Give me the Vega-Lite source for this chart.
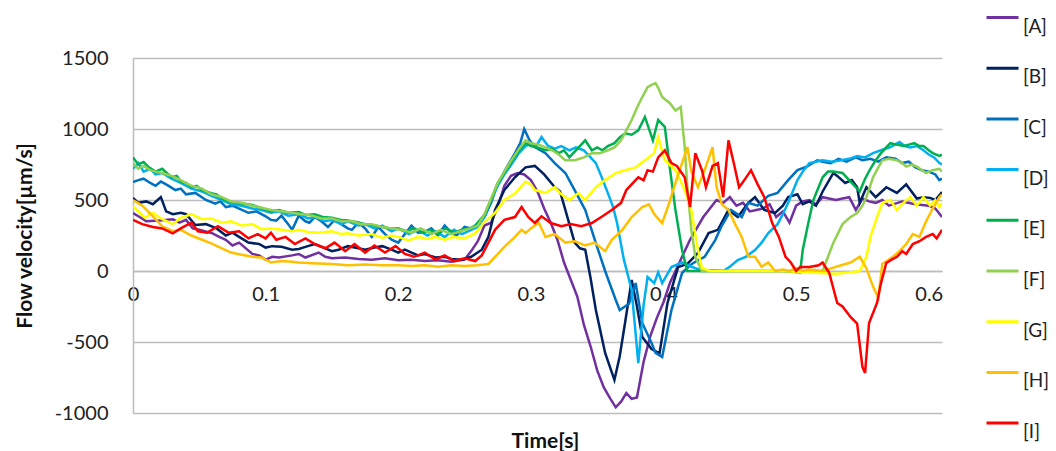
{
  "$schema": "https://vega.github.io/schema/vega-lite/v6.json",
  "width": 809,
  "height": 355,
  "autosize": {"type": "none"},
  "padding": {"left": 133, "top": 58, "right": 114, "bottom": 38},
  "background": "white",
  "config": {
    "view": {"stroke": null},
    "font": "Lato",
    "axis": {"labelFont": "Lato", "titleFont": "Lato"},
    "legend": {"labelFont": "Lato"}
  },
  "data": {
    "values": [
      {"s":"[A]","t":0,"v":408},{"s":"[A]","t":0.005,"v":380},{"s":"[A]","t":0.01,"v":350},{"s":"[A]","t":0.02,"v":355},{"s":"[A]","t":0.03,"v":365},{"s":"[A]","t":0.035,"v":340},{"s":"[A]","t":0.04,"v":360},{"s":"[A]","t":0.045,"v":300},{"s":"[A]","t":0.05,"v":290},{"s":"[A]","t":0.06,"v":265},{"s":"[A]","t":0.065,"v":240},{"s":"[A]","t":0.07,"v":220},{"s":"[A]","t":0.075,"v":180},{"s":"[A]","t":0.08,"v":200},{"s":"[A]","t":0.09,"v":120},{"s":"[A]","t":0.095,"v":110},{"s":"[A]","t":0.1,"v":80},{"s":"[A]","t":0.105,"v":100},{"s":"[A]","t":0.11,"v":95},{"s":"[A]","t":0.12,"v":110},{"s":"[A]","t":0.125,"v":120},{"s":"[A]","t":0.13,"v":95},{"s":"[A]","t":0.14,"v":130},{"s":"[A]","t":0.145,"v":100},{"s":"[A]","t":0.15,"v":90},{"s":"[A]","t":0.16,"v":95},{"s":"[A]","t":0.17,"v":85},{"s":"[A]","t":0.18,"v":80},{"s":"[A]","t":0.19,"v":90},{"s":"[A]","t":0.2,"v":75},{"s":"[A]","t":0.21,"v":80},{"s":"[A]","t":0.22,"v":70},{"s":"[A]","t":0.23,"v":75},{"s":"[A]","t":0.24,"v":65},{"s":"[A]","t":0.25,"v":80},{"s":"[A]","t":0.255,"v":140},{"s":"[A]","t":0.26,"v":210},{"s":"[A]","t":0.265,"v":320},{"s":"[A]","t":0.27,"v":340},{"s":"[A]","t":0.275,"v":450},{"s":"[A]","t":0.28,"v":600},{"s":"[A]","t":0.285,"v":670},{"s":"[A]","t":0.29,"v":690},{"s":"[A]","t":0.295,"v":680},{"s":"[A]","t":0.3,"v":640},{"s":"[A]","t":0.305,"v":560},{"s":"[A]","t":0.31,"v":440},{"s":"[A]","t":0.315,"v":340},{"s":"[A]","t":0.32,"v":220},{"s":"[A]","t":0.325,"v":60},{"s":"[A]","t":0.33,"v":-60},{"s":"[A]","t":0.335,"v":-180},{"s":"[A]","t":0.34,"v":-380},{"s":"[A]","t":0.345,"v":-530},{"s":"[A]","t":0.35,"v":-700},{"s":"[A]","t":0.355,"v":-820},{"s":"[A]","t":0.36,"v":-900},{"s":"[A]","t":0.364,"v":-960},{"s":"[A]","t":0.368,"v":-920},{"s":"[A]","t":0.372,"v":-860},{"s":"[A]","t":0.376,"v":-900},{"s":"[A]","t":0.38,"v":-890},{"s":"[A]","t":0.385,"v":-640},{"s":"[A]","t":0.39,"v":-460},{"s":"[A]","t":0.395,"v":-330},{"s":"[A]","t":0.4,"v":-220},{"s":"[A]","t":0.405,"v":-80},{"s":"[A]","t":0.41,"v":20},{"s":"[A]","t":0.415,"v":120},{"s":"[A]","t":0.42,"v":220},{"s":"[A]","t":0.425,"v":300},{"s":"[A]","t":0.43,"v":380},{"s":"[A]","t":0.435,"v":440},{"s":"[A]","t":0.44,"v":500},{"s":"[A]","t":0.445,"v":480},{"s":"[A]","t":0.45,"v":520},{"s":"[A]","t":0.455,"v":460},{"s":"[A]","t":0.46,"v":480},{"s":"[A]","t":0.465,"v":420},{"s":"[A]","t":0.47,"v":430},{"s":"[A]","t":0.475,"v":440},{"s":"[A]","t":0.48,"v":470},{"s":"[A]","t":0.485,"v":380},{"s":"[A]","t":0.49,"v":420},{"s":"[A]","t":0.495,"v":340},{"s":"[A]","t":0.5,"v":460},{"s":"[A]","t":0.505,"v":490},{"s":"[A]","t":0.51,"v":500},{"s":"[A]","t":0.515,"v":470},{"s":"[A]","t":0.52,"v":520},{"s":"[A]","t":0.53,"v":500},{"s":"[A]","t":0.535,"v":510},{"s":"[A]","t":0.54,"v":520},{"s":"[A]","t":0.545,"v":430},{"s":"[A]","t":0.55,"v":510},{"s":"[A]","t":0.555,"v":490},{"s":"[A]","t":0.56,"v":480},{"s":"[A]","t":0.565,"v":500},{"s":"[A]","t":0.57,"v":460},{"s":"[A]","t":0.58,"v":490},{"s":"[A]","t":0.59,"v":470},{"s":"[A]","t":0.6,"v":460},{"s":"[A]","t":0.605,"v":440},{"s":"[A]","t":0.61,"v":380},

      {"s":"[B]","t":0,"v":514},{"s":"[B]","t":0.004,"v":480},{"s":"[B]","t":0.01,"v":490},{"s":"[B]","t":0.015,"v":470},{"s":"[B]","t":0.021,"v":520},{"s":"[B]","t":0.025,"v":420},{"s":"[B]","t":0.03,"v":400},{"s":"[B]","t":0.036,"v":410},{"s":"[B]","t":0.04,"v":400},{"s":"[B]","t":0.047,"v":324},{"s":"[B]","t":0.055,"v":330},{"s":"[B]","t":0.063,"v":300},{"s":"[B]","t":0.07,"v":250},{"s":"[B]","t":0.075,"v":270},{"s":"[B]","t":0.08,"v":240},{"s":"[B]","t":0.087,"v":200},{"s":"[B]","t":0.095,"v":190},{"s":"[B]","t":0.1,"v":165},{"s":"[B]","t":0.105,"v":175},{"s":"[B]","t":0.112,"v":170},{"s":"[B]","t":0.12,"v":150},{"s":"[B]","t":0.125,"v":155},{"s":"[B]","t":0.13,"v":170},{"s":"[B]","t":0.137,"v":190},{"s":"[B]","t":0.145,"v":160},{"s":"[B]","t":0.15,"v":140},{"s":"[B]","t":0.155,"v":150},{"s":"[B]","t":0.162,"v":175},{"s":"[B]","t":0.17,"v":160},{"s":"[B]","t":0.175,"v":150},{"s":"[B]","t":0.182,"v":165},{"s":"[B]","t":0.188,"v":175},{"s":"[B]","t":0.195,"v":150},{"s":"[B]","t":0.2,"v":130},{"s":"[B]","t":0.205,"v":150},{"s":"[B]","t":0.21,"v":130},{"s":"[B]","t":0.215,"v":110},{"s":"[B]","t":0.22,"v":120},{"s":"[B]","t":0.228,"v":95},{"s":"[B]","t":0.235,"v":100},{"s":"[B]","t":0.24,"v":85},{"s":"[B]","t":0.248,"v":80},{"s":"[B]","t":0.255,"v":100},{"s":"[B]","t":0.263,"v":150},{"s":"[B]","t":0.268,"v":240},{"s":"[B]","t":0.273,"v":430},{"s":"[B]","t":0.28,"v":570},{"s":"[B]","t":0.288,"v":660},{"s":"[B]","t":0.296,"v":730},{"s":"[B]","t":0.303,"v":740},{"s":"[B]","t":0.31,"v":680},{"s":"[B]","t":0.318,"v":590},{"s":"[B]","t":0.322,"v":560},{"s":"[B]","t":0.326,"v":430},{"s":"[B]","t":0.333,"v":200},{"s":"[B]","t":0.337,"v":160},{"s":"[B]","t":0.341,"v":150},{"s":"[B]","t":0.345,"v":-50},{"s":"[B]","t":0.349,"v":-275},{"s":"[B]","t":0.356,"v":-577},{"s":"[B]","t":0.363,"v":-767},{"s":"[B]","t":0.367,"v":-600},{"s":"[B]","t":0.371,"v":-366},{"s":"[B]","t":0.376,"v":-63},{"s":"[B]","t":0.38,"v":-250},{"s":"[B]","t":0.384,"v":-465},{"s":"[B]","t":0.391,"v":-550},{"s":"[B]","t":0.397,"v":-580},{"s":"[B]","t":0.403,"v":-225},{"s":"[B]","t":0.411,"v":28},{"s":"[B]","t":0.418,"v":50},{"s":"[B]","t":0.426,"v":127},{"s":"[B]","t":0.434,"v":267},{"s":"[B]","t":0.441,"v":290},{"s":"[B]","t":0.449,"v":430},{"s":"[B]","t":0.456,"v":380},{"s":"[B]","t":0.464,"v":480},{"s":"[B]","t":0.469,"v":520},{"s":"[B]","t":0.476,"v":430},{"s":"[B]","t":0.484,"v":408},{"s":"[B]","t":0.49,"v":460},{"s":"[B]","t":0.494,"v":520},{"s":"[B]","t":0.501,"v":540},{"s":"[B]","t":0.505,"v":470},{"s":"[B]","t":0.51,"v":490},{"s":"[B]","t":0.515,"v":460},{"s":"[B]","t":0.52,"v":560},{"s":"[B]","t":0.528,"v":690},{"s":"[B]","t":0.531,"v":670},{"s":"[B]","t":0.537,"v":620},{"s":"[B]","t":0.542,"v":640},{"s":"[B]","t":0.546,"v":590},{"s":"[B]","t":0.548,"v":480},{"s":"[B]","t":0.553,"v":590},{"s":"[B]","t":0.56,"v":520},{"s":"[B]","t":0.568,"v":590},{"s":"[B]","t":0.576,"v":550},{"s":"[B]","t":0.583,"v":610},{"s":"[B]","t":0.591,"v":510},{"s":"[B]","t":0.596,"v":520},{"s":"[B]","t":0.601,"v":515},{"s":"[B]","t":0.605,"v":500},{"s":"[B]","t":0.61,"v":556},

      {"s":"[C]","t":0,"v":627},{"s":"[C]","t":0.004,"v":640},{"s":"[C]","t":0.008,"v":650},{"s":"[C]","t":0.013,"v":620},{"s":"[C]","t":0.017,"v":600},{"s":"[C]","t":0.021,"v":630},{"s":"[C]","t":0.025,"v":610},{"s":"[C]","t":0.032,"v":570},{"s":"[C]","t":0.036,"v":580},{"s":"[C]","t":0.04,"v":540},{"s":"[C]","t":0.047,"v":550},{"s":"[C]","t":0.055,"v":500},{"s":"[C]","t":0.062,"v":475},{"s":"[C]","t":0.066,"v":490},{"s":"[C]","t":0.07,"v":450},{"s":"[C]","t":0.075,"v":460},{"s":"[C]","t":0.08,"v":440},{"s":"[C]","t":0.087,"v":410},{"s":"[C]","t":0.093,"v":420},{"s":"[C]","t":0.1,"v":385},{"s":"[C]","t":0.104,"v":360},{"s":"[C]","t":0.108,"v":355},{"s":"[C]","t":0.112,"v":390},{"s":"[C]","t":0.117,"v":330},{"s":"[C]","t":0.12,"v":290},{"s":"[C]","t":0.125,"v":390},{"s":"[C]","t":0.13,"v":350},{"s":"[C]","t":0.133,"v":340},{"s":"[C]","t":0.137,"v":380},{"s":"[C]","t":0.142,"v":350},{"s":"[C]","t":0.147,"v":310},{"s":"[C]","t":0.152,"v":360},{"s":"[C]","t":0.157,"v":330},{"s":"[C]","t":0.162,"v":300},{"s":"[C]","t":0.165,"v":290},{"s":"[C]","t":0.17,"v":340},{"s":"[C]","t":0.175,"v":300},{"s":"[C]","t":0.18,"v":240},{"s":"[C]","t":0.185,"v":310},{"s":"[C]","t":0.19,"v":260},{"s":"[C]","t":0.195,"v":220},{"s":"[C]","t":0.2,"v":200},{"s":"[C]","t":0.205,"v":260},{"s":"[C]","t":0.21,"v":320},{"s":"[C]","t":0.215,"v":270},{"s":"[C]","t":0.22,"v":275},{"s":"[C]","t":0.225,"v":300},{"s":"[C]","t":0.23,"v":250},{"s":"[C]","t":0.235,"v":320},{"s":"[C]","t":0.24,"v":270},{"s":"[C]","t":0.244,"v":250},{"s":"[C]","t":0.25,"v":310},{"s":"[C]","t":0.255,"v":300},{"s":"[C]","t":0.26,"v":330},{"s":"[C]","t":0.265,"v":380},{"s":"[C]","t":0.27,"v":480},{"s":"[C]","t":0.274,"v":590},{"s":"[C]","t":0.28,"v":700},{"s":"[C]","t":0.288,"v":830},{"s":"[C]","t":0.292,"v":900},{"s":"[C]","t":0.295,"v":1000},{"s":"[C]","t":0.299,"v":920},{"s":"[C]","t":0.303,"v":873},{"s":"[C]","t":0.311,"v":830},{"s":"[C]","t":0.318,"v":760},{"s":"[C]","t":0.326,"v":690},{"s":"[C]","t":0.333,"v":570},{"s":"[C]","t":0.341,"v":430},{"s":"[C]","t":0.349,"v":197},{"s":"[C]","t":0.356,"v":0},{"s":"[C]","t":0.364,"v":-204},{"s":"[C]","t":0.367,"v":-275},{"s":"[C]","t":0.374,"v":-230},{"s":"[C]","t":0.379,"v":-85},{"s":"[C]","t":0.384,"v":-366},{"s":"[C]","t":0.391,"v":-507},{"s":"[C]","t":0.394,"v":-577},{"s":"[C]","t":0.399,"v":-605},{"s":"[C]","t":0.406,"v":-275},{"s":"[C]","t":0.414,"v":-14},{"s":"[C]","t":0.42,"v":40},{"s":"[C]","t":0.425,"v":70},{"s":"[C]","t":0.431,"v":100},{"s":"[C]","t":0.439,"v":218},{"s":"[C]","t":0.444,"v":320},{"s":"[C]","t":0.451,"v":430},{"s":"[C]","t":0.459,"v":380},{"s":"[C]","t":0.464,"v":480},{"s":"[C]","t":0.471,"v":460},{"s":"[C]","t":0.479,"v":530},{"s":"[C]","t":0.486,"v":550},{"s":"[C]","t":0.494,"v":640},{"s":"[C]","t":0.501,"v":710},{"s":"[C]","t":0.508,"v":735},{"s":"[C]","t":0.516,"v":780},{"s":"[C]","t":0.52,"v":770},{"s":"[C]","t":0.526,"v":760},{"s":"[C]","t":0.532,"v":790},{"s":"[C]","t":0.538,"v":770},{"s":"[C]","t":0.545,"v":800},{"s":"[C]","t":0.55,"v":780},{"s":"[C]","t":0.556,"v":790},{"s":"[C]","t":0.562,"v":770},{"s":"[C]","t":0.568,"v":800},{"s":"[C]","t":0.575,"v":790},{"s":"[C]","t":0.58,"v":760},{"s":"[C]","t":0.585,"v":770},{"s":"[C]","t":0.59,"v":730},{"s":"[C]","t":0.595,"v":710},{"s":"[C]","t":0.6,"v":700},{"s":"[C]","t":0.605,"v":680},{"s":"[C]","t":0.608,"v":640},{"s":"[C]","t":0.61,"v":650},

      {"s":"[D]","t":0,"v":720},{"s":"[D]","t":0.004,"v":760},{"s":"[D]","t":0.008,"v":700},{"s":"[D]","t":0.013,"v":720},{"s":"[D]","t":0.017,"v":680},{"s":"[D]","t":0.022,"v":690},{"s":"[D]","t":0.029,"v":650},{"s":"[D]","t":0.036,"v":620},{"s":"[D]","t":0.044,"v":580},{"s":"[D]","t":0.052,"v":560},{"s":"[D]","t":0.059,"v":530},{"s":"[D]","t":0.067,"v":500},{"s":"[D]","t":0.074,"v":470},{"s":"[D]","t":0.082,"v":460},{"s":"[D]","t":0.09,"v":440},{"s":"[D]","t":0.097,"v":430},{"s":"[D]","t":0.104,"v":410},{"s":"[D]","t":0.11,"v":420},{"s":"[D]","t":0.117,"v":390},{"s":"[D]","t":0.125,"v":400},{"s":"[D]","t":0.132,"v":370},{"s":"[D]","t":0.137,"v":380},{"s":"[D]","t":0.145,"v":350},{"s":"[D]","t":0.15,"v":360},{"s":"[D]","t":0.157,"v":330},{"s":"[D]","t":0.162,"v":350},{"s":"[D]","t":0.17,"v":320},{"s":"[D]","t":0.175,"v":330},{"s":"[D]","t":0.182,"v":300},{"s":"[D]","t":0.188,"v":320},{"s":"[D]","t":0.195,"v":280},{"s":"[D]","t":0.2,"v":300},{"s":"[D]","t":0.208,"v":260},{"s":"[D]","t":0.215,"v":290},{"s":"[D]","t":0.222,"v":250},{"s":"[D]","t":0.228,"v":280},{"s":"[D]","t":0.235,"v":240},{"s":"[D]","t":0.242,"v":290},{"s":"[D]","t":0.248,"v":260},{"s":"[D]","t":0.255,"v":290},{"s":"[D]","t":0.26,"v":310},{"s":"[D]","t":0.265,"v":380},{"s":"[D]","t":0.27,"v":500},{"s":"[D]","t":0.275,"v":600},{"s":"[D]","t":0.28,"v":680},{"s":"[D]","t":0.286,"v":760},{"s":"[D]","t":0.291,"v":830},{"s":"[D]","t":0.296,"v":880},{"s":"[D]","t":0.3,"v":900},{"s":"[D]","t":0.304,"v":880},{"s":"[D]","t":0.308,"v":943},{"s":"[D]","t":0.313,"v":880},{"s":"[D]","t":0.318,"v":862},{"s":"[D]","t":0.323,"v":880},{"s":"[D]","t":0.329,"v":850},{"s":"[D]","t":0.334,"v":870},{"s":"[D]","t":0.34,"v":850},{"s":"[D]","t":0.345,"v":800},{"s":"[D]","t":0.349,"v":760},{"s":"[D]","t":0.353,"v":670},{"s":"[D]","t":0.358,"v":550},{"s":"[D]","t":0.362,"v":450},{"s":"[D]","t":0.365,"v":338},{"s":"[D]","t":0.37,"v":85},{"s":"[D]","t":0.376,"v":-134},{"s":"[D]","t":0.381,"v":-648},{"s":"[D]","t":0.385,"v":-240},{"s":"[D]","t":0.388,"v":-42},{"s":"[D]","t":0.393,"v":-85},{"s":"[D]","t":0.396,"v":-10},{"s":"[D]","t":0.399,"v":-85},{"s":"[D]","t":0.406,"v":28},{"s":"[D]","t":0.414,"v":60},{"s":"[D]","t":0.421,"v":30},{"s":"[D]","t":0.43,"v":0},{"s":"[D]","t":0.437,"v":5},{"s":"[D]","t":0.445,"v":0},{"s":"[D]","t":0.45,"v":30},{"s":"[D]","t":0.456,"v":77},{"s":"[D]","t":0.462,"v":100},{"s":"[D]","t":0.469,"v":148},{"s":"[D]","t":0.474,"v":200},{"s":"[D]","t":0.479,"v":267},{"s":"[D]","t":0.486,"v":330},{"s":"[D]","t":0.49,"v":400},{"s":"[D]","t":0.494,"v":480},{"s":"[D]","t":0.501,"v":640},{"s":"[D]","t":0.505,"v":700},{"s":"[D]","t":0.51,"v":760},{"s":"[D]","t":0.515,"v":770},{"s":"[D]","t":0.52,"v":780},{"s":"[D]","t":0.527,"v":770},{"s":"[D]","t":0.534,"v":780},{"s":"[D]","t":0.54,"v":790},{"s":"[D]","t":0.546,"v":810},{"s":"[D]","t":0.552,"v":800},{"s":"[D]","t":0.558,"v":830},{"s":"[D]","t":0.564,"v":850},{"s":"[D]","t":0.571,"v":873},{"s":"[D]","t":0.578,"v":908},{"s":"[D]","t":0.582,"v":880},{"s":"[D]","t":0.586,"v":870},{"s":"[D]","t":0.591,"v":880},{"s":"[D]","t":0.596,"v":850},{"s":"[D]","t":0.6,"v":820},{"s":"[D]","t":0.604,"v":800},{"s":"[D]","t":0.608,"v":760},{"s":"[D]","t":0.61,"v":750},

      {"s":"[E]","t":0,"v":800},{"s":"[E]","t":0.004,"v":750},{"s":"[E]","t":0.008,"v":767},{"s":"[E]","t":0.012,"v":730},{"s":"[E]","t":0.017,"v":700},{"s":"[E]","t":0.022,"v":720},{"s":"[E]","t":0.029,"v":660},{"s":"[E]","t":0.033,"v":670},{"s":"[E]","t":0.036,"v":630},{"s":"[E]","t":0.04,"v":620},{"s":"[E]","t":0.044,"v":590},{"s":"[E]","t":0.048,"v":600},{"s":"[E]","t":0.052,"v":570},{"s":"[E]","t":0.059,"v":548},{"s":"[E]","t":0.063,"v":540},{"s":"[E]","t":0.067,"v":510},{"s":"[E]","t":0.074,"v":486},{"s":"[E]","t":0.082,"v":475},{"s":"[E]","t":0.09,"v":465},{"s":"[E]","t":0.097,"v":443},{"s":"[E]","t":0.104,"v":420},{"s":"[E]","t":0.11,"v":430},{"s":"[E]","t":0.117,"v":410},{"s":"[E]","t":0.125,"v":415},{"s":"[E]","t":0.13,"v":395},{"s":"[E]","t":0.137,"v":400},{"s":"[E]","t":0.143,"v":380},{"s":"[E]","t":0.15,"v":375},{"s":"[E]","t":0.157,"v":360},{"s":"[E]","t":0.162,"v":355},{"s":"[E]","t":0.168,"v":345},{"s":"[E]","t":0.175,"v":330},{"s":"[E]","t":0.182,"v":320},{"s":"[E]","t":0.188,"v":310},{"s":"[E]","t":0.194,"v":300},{"s":"[E]","t":0.2,"v":300},{"s":"[E]","t":0.206,"v":280},{"s":"[E]","t":0.212,"v":300},{"s":"[E]","t":0.218,"v":270},{"s":"[E]","t":0.224,"v":290},{"s":"[E]","t":0.23,"v":260},{"s":"[E]","t":0.236,"v":300},{"s":"[E]","t":0.242,"v":270},{"s":"[E]","t":0.248,"v":290},{"s":"[E]","t":0.254,"v":300},{"s":"[E]","t":0.258,"v":320},{"s":"[E]","t":0.265,"v":395},{"s":"[E]","t":0.27,"v":500},{"s":"[E]","t":0.275,"v":620},{"s":"[E]","t":0.28,"v":690},{"s":"[E]","t":0.286,"v":780},{"s":"[E]","t":0.291,"v":850},{"s":"[E]","t":0.296,"v":900},{"s":"[E]","t":0.3,"v":880},{"s":"[E]","t":0.305,"v":870},{"s":"[E]","t":0.311,"v":850},{"s":"[E]","t":0.316,"v":860},{"s":"[E]","t":0.321,"v":830},{"s":"[E]","t":0.325,"v":850},{"s":"[E]","t":0.329,"v":800},{"s":"[E]","t":0.335,"v":860},{"s":"[E]","t":0.341,"v":920},{"s":"[E]","t":0.346,"v":850},{"s":"[E]","t":0.35,"v":870},{"s":"[E]","t":0.354,"v":850},{"s":"[E]","t":0.358,"v":880},{"s":"[E]","t":0.363,"v":900},{"s":"[E]","t":0.367,"v":940},{"s":"[E]","t":0.371,"v":970},{"s":"[E]","t":0.376,"v":960},{"s":"[E]","t":0.381,"v":990},{"s":"[E]","t":0.386,"v":1085},{"s":"[E]","t":0.392,"v":920},{"s":"[E]","t":0.396,"v":1063},{"s":"[E]","t":0.401,"v":1015},{"s":"[E]","t":0.405,"v":711},{"s":"[E]","t":0.409,"v":430},{"s":"[E]","t":0.414,"v":148},{"s":"[E]","t":0.418,"v":0},{"s":"[E]","t":0.43,"v":0},{"s":"[E]","t":0.45,"v":0},{"s":"[E]","t":0.47,"v":0},{"s":"[E]","t":0.49,"v":0},{"s":"[E]","t":0.503,"v":-10},{"s":"[E]","t":0.505,"v":148},{"s":"[E]","t":0.509,"v":330},{"s":"[E]","t":0.513,"v":500},{"s":"[E]","t":0.52,"v":660},{"s":"[E]","t":0.524,"v":700},{"s":"[E]","t":0.528,"v":700},{"s":"[E]","t":0.535,"v":690},{"s":"[E]","t":0.54,"v":640},{"s":"[E]","t":0.543,"v":610},{"s":"[E]","t":0.548,"v":560},{"s":"[E]","t":0.552,"v":650},{"s":"[E]","t":0.556,"v":720},{"s":"[E]","t":0.56,"v":780},{"s":"[E]","t":0.564,"v":830},{"s":"[E]","t":0.568,"v":870},{"s":"[E]","t":0.571,"v":900},{"s":"[E]","t":0.576,"v":890},{"s":"[E]","t":0.581,"v":880},{"s":"[E]","t":0.585,"v":890},{"s":"[E]","t":0.589,"v":900},{"s":"[E]","t":0.593,"v":880},{"s":"[E]","t":0.596,"v":880},{"s":"[E]","t":0.6,"v":850},{"s":"[E]","t":0.603,"v":830},{"s":"[E]","t":0.608,"v":810},{"s":"[E]","t":0.61,"v":820},

      {"s":"[F]","t":0,"v":760},{"s":"[F]","t":0.004,"v":720},{"s":"[F]","t":0.008,"v":740},{"s":"[F]","t":0.013,"v":710},{"s":"[F]","t":0.017,"v":700},{"s":"[F]","t":0.022,"v":690},{"s":"[F]","t":0.029,"v":670},{"s":"[F]","t":0.036,"v":640},{"s":"[F]","t":0.044,"v":600},{"s":"[F]","t":0.052,"v":580},{"s":"[F]","t":0.059,"v":540},{"s":"[F]","t":0.067,"v":520},{"s":"[F]","t":0.074,"v":490},{"s":"[F]","t":0.082,"v":480},{"s":"[F]","t":0.09,"v":460},{"s":"[F]","t":0.097,"v":445},{"s":"[F]","t":0.104,"v":430},{"s":"[F]","t":0.112,"v":420},{"s":"[F]","t":0.12,"v":410},{"s":"[F]","t":0.127,"v":400},{"s":"[F]","t":0.135,"v":390},{"s":"[F]","t":0.142,"v":370},{"s":"[F]","t":0.15,"v":370},{"s":"[F]","t":0.157,"v":350},{"s":"[F]","t":0.165,"v":350},{"s":"[F]","t":0.172,"v":330},{"s":"[F]","t":0.18,"v":330},{"s":"[F]","t":0.188,"v":310},{"s":"[F]","t":0.195,"v":300},{"s":"[F]","t":0.202,"v":290},{"s":"[F]","t":0.21,"v":270},{"s":"[F]","t":0.217,"v":300},{"s":"[F]","t":0.225,"v":260},{"s":"[F]","t":0.232,"v":290},{"s":"[F]","t":0.24,"v":260},{"s":"[F]","t":0.247,"v":280},{"s":"[F]","t":0.254,"v":300},{"s":"[F]","t":0.26,"v":320},{"s":"[F]","t":0.265,"v":400},{"s":"[F]","t":0.27,"v":510},{"s":"[F]","t":0.275,"v":620},{"s":"[F]","t":0.28,"v":700},{"s":"[F]","t":0.286,"v":790},{"s":"[F]","t":0.291,"v":860},{"s":"[F]","t":0.296,"v":920},{"s":"[F]","t":0.3,"v":900},{"s":"[F]","t":0.306,"v":890},{"s":"[F]","t":0.311,"v":870},{"s":"[F]","t":0.316,"v":850},{"s":"[F]","t":0.321,"v":820},{"s":"[F]","t":0.326,"v":780},{"s":"[F]","t":0.333,"v":780},{"s":"[F]","t":0.34,"v":800},{"s":"[F]","t":0.346,"v":830},{"s":"[F]","t":0.352,"v":830},{"s":"[F]","t":0.358,"v":850},{"s":"[F]","t":0.363,"v":870},{"s":"[F]","t":0.368,"v":920},{"s":"[F]","t":0.372,"v":990},{"s":"[F]","t":0.376,"v":1063},{"s":"[F]","t":0.38,"v":1150},{"s":"[F]","t":0.384,"v":1225},{"s":"[F]","t":0.388,"v":1295},{"s":"[F]","t":0.391,"v":1310},{"s":"[F]","t":0.394,"v":1323},{"s":"[F]","t":0.396,"v":1290},{"s":"[F]","t":0.399,"v":1225},{"s":"[F]","t":0.405,"v":1180},{"s":"[F]","t":0.409,"v":1130},{"s":"[F]","t":0.413,"v":1155},{"s":"[F]","t":0.416,"v":873},{"s":"[F]","t":0.418,"v":590},{"s":"[F]","t":0.421,"v":290},{"s":"[F]","t":0.424,"v":100},{"s":"[F]","t":0.429,"v":0},{"s":"[F]","t":0.45,"v":0},{"s":"[F]","t":0.47,"v":0},{"s":"[F]","t":0.49,"v":0},{"s":"[F]","t":0.51,"v":0},{"s":"[F]","t":0.52,"v":0},{"s":"[F]","t":0.524,"v":100},{"s":"[F]","t":0.528,"v":197},{"s":"[F]","t":0.535,"v":330},{"s":"[F]","t":0.541,"v":380},{"s":"[F]","t":0.546,"v":408},{"s":"[F]","t":0.55,"v":460},{"s":"[F]","t":0.553,"v":520},{"s":"[F]","t":0.558,"v":660},{"s":"[F]","t":0.562,"v":730},{"s":"[F]","t":0.565,"v":780},{"s":"[F]","t":0.57,"v":790},{"s":"[F]","t":0.576,"v":780},{"s":"[F]","t":0.58,"v":760},{"s":"[F]","t":0.583,"v":735},{"s":"[F]","t":0.587,"v":750},{"s":"[F]","t":0.591,"v":735},{"s":"[F]","t":0.595,"v":710},{"s":"[F]","t":0.598,"v":690},{"s":"[F]","t":0.603,"v":710},{"s":"[F]","t":0.608,"v":720},{"s":"[F]","t":0.61,"v":700},

      {"s":"[G]","t":0,"v":455},{"s":"[G]","t":0.004,"v":420},{"s":"[G]","t":0.009,"v":375},{"s":"[G]","t":0.015,"v":410},{"s":"[G]","t":0.022,"v":365},{"s":"[G]","t":0.03,"v":330},{"s":"[G]","t":0.036,"v":375},{"s":"[G]","t":0.044,"v":400},{"s":"[G]","t":0.052,"v":365},{"s":"[G]","t":0.059,"v":370},{"s":"[G]","t":0.067,"v":340},{"s":"[G]","t":0.074,"v":350},{"s":"[G]","t":0.082,"v":320},{"s":"[G]","t":0.09,"v":330},{"s":"[G]","t":0.097,"v":295},{"s":"[G]","t":0.104,"v":300},{"s":"[G]","t":0.112,"v":290},{"s":"[G]","t":0.12,"v":280},{"s":"[G]","t":0.125,"v":290},{"s":"[G]","t":0.132,"v":275},{"s":"[G]","t":0.14,"v":270},{"s":"[G]","t":0.15,"v":280},{"s":"[G]","t":0.157,"v":260},{"s":"[G]","t":0.162,"v":265},{"s":"[G]","t":0.17,"v":250},{"s":"[G]","t":0.18,"v":260},{"s":"[G]","t":0.188,"v":235},{"s":"[G]","t":0.195,"v":250},{"s":"[G]","t":0.2,"v":240},{"s":"[G]","t":0.208,"v":215},{"s":"[G]","t":0.215,"v":240},{"s":"[G]","t":0.222,"v":225},{"s":"[G]","t":0.228,"v":240},{"s":"[G]","t":0.235,"v":220},{"s":"[G]","t":0.242,"v":240},{"s":"[G]","t":0.25,"v":230},{"s":"[G]","t":0.258,"v":265},{"s":"[G]","t":0.265,"v":345},{"s":"[G]","t":0.273,"v":410},{"s":"[G]","t":0.28,"v":500},{"s":"[G]","t":0.288,"v":545},{"s":"[G]","t":0.296,"v":630},{"s":"[G]","t":0.3,"v":610},{"s":"[G]","t":0.303,"v":570},{"s":"[G]","t":0.311,"v":550},{"s":"[G]","t":0.318,"v":590},{"s":"[G]","t":0.323,"v":540},{"s":"[G]","t":0.329,"v":500},{"s":"[G]","t":0.336,"v":550},{"s":"[G]","t":0.341,"v":500},{"s":"[G]","t":0.349,"v":590},{"s":"[G]","t":0.356,"v":640},{"s":"[G]","t":0.364,"v":690},{"s":"[G]","t":0.371,"v":710},{"s":"[G]","t":0.379,"v":730},{"s":"[G]","t":0.386,"v":780},{"s":"[G]","t":0.393,"v":830},{"s":"[G]","t":0.396,"v":943},{"s":"[G]","t":0.401,"v":780},{"s":"[G]","t":0.409,"v":711},{"s":"[G]","t":0.416,"v":570},{"s":"[G]","t":0.421,"v":430},{"s":"[G]","t":0.425,"v":197},{"s":"[G]","t":0.429,"v":20},{"s":"[G]","t":0.435,"v":0},{"s":"[G]","t":0.45,"v":0},{"s":"[G]","t":0.47,"v":0},{"s":"[G]","t":0.49,"v":0},{"s":"[G]","t":0.51,"v":-10},{"s":"[G]","t":0.53,"v":-20},{"s":"[G]","t":0.54,"v":-10},{"s":"[G]","t":0.548,"v":0},{"s":"[G]","t":0.553,"v":100},{"s":"[G]","t":0.556,"v":240},{"s":"[G]","t":0.561,"v":380},{"s":"[G]","t":0.565,"v":480},{"s":"[G]","t":0.571,"v":500},{"s":"[G]","t":0.576,"v":430},{"s":"[G]","t":0.581,"v":480},{"s":"[G]","t":0.586,"v":520},{"s":"[G]","t":0.591,"v":460},{"s":"[G]","t":0.596,"v":520},{"s":"[G]","t":0.601,"v":460},{"s":"[G]","t":0.605,"v":500},{"s":"[G]","t":0.608,"v":450},{"s":"[G]","t":0.61,"v":480},

      {"s":"[H]","t":0,"v":500},{"s":"[H]","t":0.007,"v":460},{"s":"[H]","t":0.015,"v":385},{"s":"[H]","t":0.022,"v":315},{"s":"[H]","t":0.03,"v":280},{"s":"[H]","t":0.036,"v":290},{"s":"[H]","t":0.044,"v":250},{"s":"[H]","t":0.052,"v":220},{"s":"[H]","t":0.059,"v":195},{"s":"[H]","t":0.067,"v":160},{"s":"[H]","t":0.074,"v":130},{"s":"[H]","t":0.082,"v":115},{"s":"[H]","t":0.09,"v":100},{"s":"[H]","t":0.097,"v":95},{"s":"[H]","t":0.104,"v":60},{"s":"[H]","t":0.112,"v":70},{"s":"[H]","t":0.12,"v":65},{"s":"[H]","t":0.125,"v":60},{"s":"[H]","t":0.135,"v":55},{"s":"[H]","t":0.15,"v":50},{"s":"[H]","t":0.162,"v":40},{"s":"[H]","t":0.175,"v":45},{"s":"[H]","t":0.188,"v":40},{"s":"[H]","t":0.2,"v":40},{"s":"[H]","t":0.21,"v":35},{"s":"[H]","t":0.22,"v":40},{"s":"[H]","t":0.23,"v":30},{"s":"[H]","t":0.24,"v":40},{"s":"[H]","t":0.25,"v":35},{"s":"[H]","t":0.26,"v":40},{"s":"[H]","t":0.268,"v":50},{"s":"[H]","t":0.273,"v":100},{"s":"[H]","t":0.28,"v":170},{"s":"[H]","t":0.288,"v":240},{"s":"[H]","t":0.293,"v":290},{"s":"[H]","t":0.296,"v":267},{"s":"[H]","t":0.3,"v":300},{"s":"[H]","t":0.306,"v":340},{"s":"[H]","t":0.311,"v":240},{"s":"[H]","t":0.318,"v":260},{"s":"[H]","t":0.326,"v":200},{"s":"[H]","t":0.333,"v":210},{"s":"[H]","t":0.341,"v":180},{"s":"[H]","t":0.348,"v":200},{"s":"[H]","t":0.356,"v":140},{"s":"[H]","t":0.361,"v":220},{"s":"[H]","t":0.369,"v":290},{"s":"[H]","t":0.376,"v":380},{"s":"[H]","t":0.384,"v":450},{"s":"[H]","t":0.389,"v":470},{"s":"[H]","t":0.393,"v":400},{"s":"[H]","t":0.399,"v":338},{"s":"[H]","t":0.404,"v":470},{"s":"[H]","t":0.409,"v":620},{"s":"[H]","t":0.414,"v":760},{"s":"[H]","t":0.418,"v":873},{"s":"[H]","t":0.421,"v":700},{"s":"[H]","t":0.426,"v":590},{"s":"[H]","t":0.431,"v":710},{"s":"[H]","t":0.437,"v":873},{"s":"[H]","t":0.44,"v":590},{"s":"[H]","t":0.444,"v":470},{"s":"[H]","t":0.449,"v":430},{"s":"[H]","t":0.454,"v":330},{"s":"[H]","t":0.459,"v":240},{"s":"[H]","t":0.464,"v":100},{"s":"[H]","t":0.469,"v":100},{"s":"[H]","t":0.474,"v":30},{"s":"[H]","t":0.479,"v":60},{"s":"[H]","t":0.484,"v":0},{"s":"[H]","t":0.49,"v":10},{"s":"[H]","t":0.495,"v":0},{"s":"[H]","t":0.5,"v":20},{"s":"[H]","t":0.505,"v":0},{"s":"[H]","t":0.51,"v":10},{"s":"[H]","t":0.52,"v":0},{"s":"[H]","t":0.527,"v":20},{"s":"[H]","t":0.534,"v":40},{"s":"[H]","t":0.541,"v":60},{"s":"[H]","t":0.548,"v":100},{"s":"[H]","t":0.553,"v":20},{"s":"[H]","t":0.558,"v":-110},{"s":"[H]","t":0.562,"v":-190},{"s":"[H]","t":0.565,"v":50},{"s":"[H]","t":0.573,"v":100},{"s":"[H]","t":0.578,"v":140},{"s":"[H]","t":0.583,"v":190},{"s":"[H]","t":0.588,"v":260},{"s":"[H]","t":0.593,"v":240},{"s":"[H]","t":0.598,"v":350},{"s":"[H]","t":0.603,"v":440},{"s":"[H]","t":0.608,"v":520},{"s":"[H]","t":0.61,"v":540},

      {"s":"[I]","t":0,"v":360},{"s":"[I]","t":0.007,"v":330},{"s":"[I]","t":0.015,"v":310},{"s":"[I]","t":0.022,"v":300},{"s":"[I]","t":0.03,"v":265},{"s":"[I]","t":0.036,"v":300},{"s":"[I]","t":0.044,"v":340},{"s":"[I]","t":0.049,"v":280},{"s":"[I]","t":0.056,"v":270},{"s":"[I]","t":0.064,"v":315},{"s":"[I]","t":0.072,"v":270},{"s":"[I]","t":0.08,"v":280},{"s":"[I]","t":0.087,"v":230},{"s":"[I]","t":0.094,"v":260},{"s":"[I]","t":0.1,"v":230},{"s":"[I]","t":0.104,"v":270},{"s":"[I]","t":0.108,"v":220},{"s":"[I]","t":0.115,"v":240},{"s":"[I]","t":0.122,"v":190},{"s":"[I]","t":0.13,"v":230},{"s":"[I]","t":0.137,"v":190},{"s":"[I]","t":0.145,"v":160},{"s":"[I]","t":0.152,"v":200},{"s":"[I]","t":0.16,"v":140},{"s":"[I]","t":0.167,"v":190},{"s":"[I]","t":0.175,"v":130},{"s":"[I]","t":0.182,"v":180},{"s":"[I]","t":0.19,"v":130},{"s":"[I]","t":0.198,"v":175},{"s":"[I]","t":0.205,"v":120},{"s":"[I]","t":0.212,"v":100},{"s":"[I]","t":0.22,"v":130},{"s":"[I]","t":0.228,"v":80},{"s":"[I]","t":0.235,"v":110},{"s":"[I]","t":0.242,"v":70},{"s":"[I]","t":0.25,"v":90},{"s":"[I]","t":0.258,"v":70},{"s":"[I]","t":0.263,"v":110},{"s":"[I]","t":0.268,"v":200},{"s":"[I]","t":0.273,"v":290},{"s":"[I]","t":0.28,"v":360},{"s":"[I]","t":0.288,"v":380},{"s":"[I]","t":0.293,"v":450},{"s":"[I]","t":0.298,"v":380},{"s":"[I]","t":0.303,"v":338},{"s":"[I]","t":0.308,"v":385},{"s":"[I]","t":0.315,"v":338},{"s":"[I]","t":0.323,"v":315},{"s":"[I]","t":0.33,"v":330},{"s":"[I]","t":0.338,"v":315},{"s":"[I]","t":0.346,"v":338},{"s":"[I]","t":0.354,"v":385},{"s":"[I]","t":0.361,"v":430},{"s":"[I]","t":0.368,"v":480},{"s":"[I]","t":0.372,"v":570},{"s":"[I]","t":0.377,"v":620},{"s":"[I]","t":0.381,"v":660},{"s":"[I]","t":0.385,"v":640},{"s":"[I]","t":0.388,"v":710},{"s":"[I]","t":0.392,"v":700},{"s":"[I]","t":0.396,"v":800},{"s":"[I]","t":0.401,"v":850},{"s":"[I]","t":0.406,"v":760},{"s":"[I]","t":0.41,"v":740},{"s":"[I]","t":0.416,"v":660},{"s":"[I]","t":0.42,"v":450},{"s":"[I]","t":0.424,"v":830},{"s":"[I]","t":0.429,"v":710},{"s":"[I]","t":0.432,"v":590},{"s":"[I]","t":0.437,"v":740},{"s":"[I]","t":0.441,"v":760},{"s":"[I]","t":0.445,"v":520},{"s":"[I]","t":0.449,"v":920},{"s":"[I]","t":0.453,"v":760},{"s":"[I]","t":0.457,"v":590},{"s":"[I]","t":0.461,"v":640},{"s":"[I]","t":0.466,"v":710},{"s":"[I]","t":0.471,"v":610},{"s":"[I]","t":0.476,"v":520},{"s":"[I]","t":0.482,"v":338},{"s":"[I]","t":0.487,"v":240},{"s":"[I]","t":0.492,"v":100},{"s":"[I]","t":0.496,"v":60},{"s":"[I]","t":0.5,"v":0},{"s":"[I]","t":0.503,"v":28},{"s":"[I]","t":0.51,"v":28},{"s":"[I]","t":0.517,"v":40},{"s":"[I]","t":0.52,"v":60},{"s":"[I]","t":0.525,"v":-14},{"s":"[I]","t":0.531,"v":-225},{"s":"[I]","t":0.535,"v":-250},{"s":"[I]","t":0.541,"v":-324},{"s":"[I]","t":0.546,"v":-370},{"s":"[I]","t":0.55,"v":-676},{"s":"[I]","t":0.552,"v":-718},{"s":"[I]","t":0.555,"v":-366},{"s":"[I]","t":0.561,"v":-225},{"s":"[I]","t":0.564,"v":-85},{"s":"[I]","t":0.568,"v":56},{"s":"[I]","t":0.572,"v":80},{"s":"[I]","t":0.576,"v":100},{"s":"[I]","t":0.58,"v":140},{"s":"[I]","t":0.583,"v":120},{"s":"[I]","t":0.588,"v":190},{"s":"[I]","t":0.593,"v":210},{"s":"[I]","t":0.598,"v":240},{"s":"[I]","t":0.603,"v":260},{"s":"[I]","t":0.606,"v":230},{"s":"[I]","t":0.61,"v":290}
    ]
  },
  "mark": {"type": "line", "strokeWidth": 2.5, "clip": true},
  "encoding": {
    "x": {
      "field": "t",
      "type": "quantitative",
      "scale": {"domain": [0, 0.61], "nice": false, "zero": false},
      "axis": {
        "title": "Time[s]",
        "values": [0, 0.1, 0.2, 0.3, 0.4, 0.5, 0.6],
        "labelExpr": "'' + datum.value",
        "offset": -142,
        "ticks": false,
        "grid": false,
        "domainColor": "#bdbdbd",
        "domainWidth": 1.5,
        "labelFontSize": 20,
        "labelColor": "#222222",
        "labelPadding": 13,
        "labelFlush": false,
        "titleFontSize": 21,
        "titleFontWeight": "bold",
        "titleColor": "#111111",
        "titleX": 412,
        "titleY": 170,
        "titleBaseline": "middle",
        "titleAlign": "center"
      }
    },
    "y": {
      "field": "v",
      "type": "quantitative",
      "scale": {"domain": [-1000, 1500], "nice": false},
      "axis": {
        "title": "Flow velocity[µm/s]",
        "values": [-1000, -500, 0, 500, 1000, 1500],
        "labelExpr": "'' + datum.value",
        "ticks": false,
        "grid": true,
        "gridColor": "#bdbdbd",
        "gridWidth": 1.5,
        "domainColor": "#bdbdbd",
        "domainWidth": 1.5,
        "labelFontSize": 20,
        "labelColor": "#222222",
        "labelPadding": 25,
        "labelFlush": false,
        "titleFontSize": 21,
        "titleFontWeight": "bold",
        "titleColor": "#111111",
        "titleX": -108,
        "titleY": 177.5,
        "titleBaseline": "middle",
        "titleAlign": "center",
        "titleAngle": -90
      }
    },
    "color": {
      "field": "s",
      "type": "nominal",
      "scale": {
        "domain": ["[A]", "[B]", "[C]", "[D]", "[E]", "[F]", "[G]", "[H]", "[I]"],
        "range": ["#7030A0", "#002060", "#0070C0", "#00B0F0", "#00B050", "#92D050", "#FFFF00", "#FFC000", "#FF0000"]
      },
      "legend": {
        "title": null,
        "orient": "none",
        "legendX": 852,
        "legendY": -58,
        "padding": 0,
        "symbolType": "stroke",
        "symbolSize": 1024,
        "symbolStrokeWidth": 3,
        "rowPadding": 13.7,
        "labelOffset": 3,
        "labelFontSize": 19,
        "labelColor": "#222222",
        "labelBaseline": "top"
      }
    }
  }
}
